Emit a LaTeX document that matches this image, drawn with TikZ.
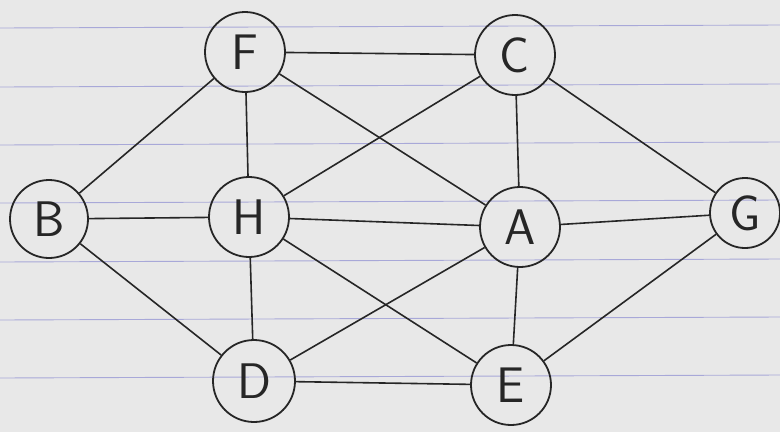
\documentclass[tikz,border=0pt]{standalone}
\begin{document}
\begin{tikzpicture}[x=1pt,y=-1pt,
  vtx/.style={circle,draw=black!85,line width=1.8pt,minimum size=80pt,inner sep=0pt,
    font=\fontsize{50}{50}\selectfont\sffamily,text=black!85},
  edge/.style={draw=black!85,line width=1.6pt},
  ruled/.style={draw=blue!45!gray!70,line width=0.9pt,opacity=0.6}]
\useasboundingbox (0,0) rectangle (780,432);
\fill[black!9] (0,0) rectangle (780,432);
\foreach \yy in {28,87,145,203,262,320,378} {
  \draw[ruled] (0,\yy) -- (780,\yy-3);
}
\node[vtx] (F) at (245,52) {F};
\node[vtx] (C) at (515,55) {C};
\node[vtx,minimum size=78pt] (B) at (49,219) {B};
\node[vtx] (H) at (249,217) {H};
\node[vtx] (A) at (520,227) {A};
\node[vtx,minimum size=70pt] (G) at (745,213) {G};
\node[vtx,minimum size=82pt] (D) at (254,381) {D};
\node[vtx] (E) at (511,385) {E};
\draw[edge] (F) -- (C);
\draw[edge] (F) -- (B);
\draw[edge] (F) -- (H);
\draw[edge] (F) -- (A);
\draw[edge] (C) -- (H);
\draw[edge] (C) -- (A);
\draw[edge] (C) -- (G);
\draw[edge] (B) -- (H);
\draw[edge] (B) -- (D);
\draw[edge] (H) -- (A);
\draw[edge] (H) -- (D);
\draw[edge] (H) -- (E);
\draw[edge] (A) -- (G);
\draw[edge] (A) -- (D);
\draw[edge] (A) -- (E);
\draw[edge] (G) -- (E);
\draw[edge] (D) -- (E);
\end{tikzpicture}
\end{document}
